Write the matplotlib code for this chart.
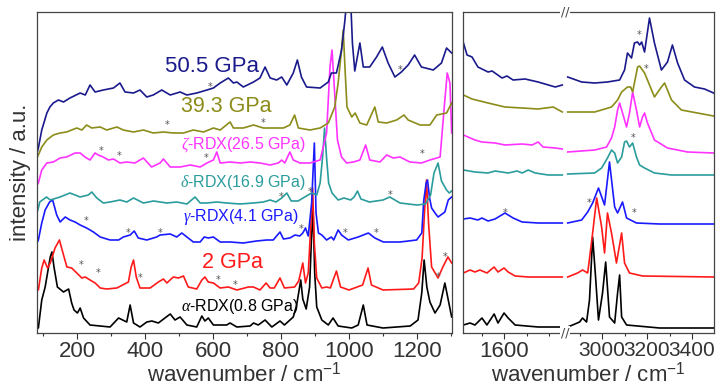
import numpy as np
import matplotlib
matplotlib.use("Agg")
import matplotlib.pyplot as plt
from matplotlib.ticker import MultipleLocator, NullLocator

plt.rcParams['font.family'] = ['Liberation Sans', 'DejaVu Sans']
plt.rcParams['mathtext.fontset'] = 'custom'
plt.rcParams['mathtext.rm'] = 'Liberation Sans'
plt.rcParams['mathtext.it'] = 'Liberation Serif:italic'

# ---- spectra: (wavenumber, intensity) ----
# low-wavenumber panel
alpha_low = [(82, 5), (86, 5), (96, 33), (106, 46), (121, 76), (126, 81), (132, 66), (142, 46), (160, 41),
             (175, 44), (184, 30), (191, 23), (201, 20), (209, 25), (219, 15), (238, 8), (297, 6), (322, 15),
             (346, 11), (356, 28), (366, 10), (385, 6), (405, 11), (420, 12), (439, 10), (474, 19), (488, 13),
             (503, 16), (523, 8), (552, 6), (567, 17), (576, 12), (586, 15), (601, 8), (640, 8), (650, 10),
             (670, 6), (709, 7), (719, 10), (733, 8), (753, 13), (773, 6), (797, 12), (810, 8), (836, 16),
             (846, 28), (858, 53), (864, 34), (874, 24), (884, 46), (889, 90), (894, 125), (899, 60),
             (905, 26), (920, 13), (939, 8), (953, 15), (968, 7), (1008, 5), (1027, 8), (1042, 28), (1053, 8),
             (1100, 5), (1180, 7), (1203, 13), (1214, 40), (1221, 73), (1229, 46), (1238, 31), (1253, 20),
             (1268, 28), (1282, 50), (1292, 33), (1302, 16)]
gpa2_low = [(82, 43), (86, 43), (96, 65), (103, 73), (113, 65), (121, 70), (135, 85), (148, 93), (160, 78),
            (170, 66), (184, 65), (199, 60), (214, 55), (224, 56), (238, 53), (253, 50), (268, 45), (287, 44),
            (317, 45), (351, 51), (359, 66), (366, 73), (374, 56), (385, 45), (415, 45), (439, 51), (454, 54),
            (464, 50), (483, 56), (498, 55), (513, 57), (527, 46), (552, 44), (567, 53), (576, 56), (586, 51),
            (601, 50), (621, 45), (645, 46), (670, 43), (704, 46), (719, 46), (738, 43), (756, 50), (768, 45),
            (780, 45), (797, 55), (810, 45), (840, 46), (852, 52), (864, 70), (872, 50), (880, 60), (888, 110),
            (893, 145), (898, 90), (905, 55), (920, 45), (934, 46), (945, 45), (963, 62), (975, 46),
            (1000, 43), (1040, 48), (1056, 65), (1066, 48), (1100, 43), (1190, 44), (1205, 50), (1215, 75),
            (1222, 120), (1228, 153), (1234, 110), (1243, 66), (1262, 55), (1276, 66), (1291, 76), (1302, 70)]
gamma_low = [(82, 90), (86, 93), (96, 110), (106, 123), (119, 131), (128, 133), (140, 118), (150, 111),
             (165, 116), (179, 113), (194, 111), (209, 108), (228, 105), (248, 101), (268, 96), (297, 93),
             (322, 93), (336, 96), (356, 98), (368, 102), (380, 95), (405, 93), (434, 96), (444, 98), (474, 99),
             (493, 96), (508, 100), (523, 96), (542, 91), (562, 91), (574, 96), (586, 95), (601, 96), (621, 91),
             (650, 91), (689, 90), (728, 92), (758, 93), (777, 93), (797, 101), (807, 94), (826, 95), (841, 98),
             (855, 97), (864, 100), (872, 105), (880, 97), (890, 130), (898, 190), (903, 120), (910, 100),
             (920, 98), (934, 93), (948, 96), (955, 93), (968, 103), (978, 98), (998, 93), (1027, 96),
             (1057, 100), (1076, 95), (1101, 91), (1150, 91), (1199, 93), (1214, 100), (1220, 133), (1227, 150),
             (1231, 153), (1237, 135), (1243, 125), (1253, 120), (1262, 116), (1282, 121), (1292, 133),
             (1302, 136)]
delta_low = [(82, 120), (86, 125), (90, 131), (110, 136), (121, 133), (150, 136), (179, 140), (209, 136),
             (233, 138), (243, 141), (258, 135), (277, 130), (297, 131), (326, 133), (346, 131), (366, 135),
             (395, 130), (425, 132), (464, 130), (493, 131), (523, 129), (547, 136), (562, 130), (581, 130),
             (611, 131), (640, 130), (679, 129), (719, 130), (748, 131), (768, 133), (785, 131), (802, 135),
             (817, 140), (830, 132), (850, 132), (870, 136), (890, 140), (905, 138), (915, 150), (922, 175),
             (928, 205), (934, 175), (940, 150), (950, 140), (968, 133), (985, 135), (1005, 133), (1015, 136),
             (1025, 142), (1035, 134), (1060, 131), (1100, 133), (1120, 136), (1150, 130), (1200, 128),
             (1225, 129), (1240, 138), (1250, 160), (1262, 170), (1272, 152), (1287, 143), (1295, 140),
             (1302, 142)]
zeta_low = [(82, 148), (86, 150), (96, 163), (111, 170), (130, 171), (150, 175), (169, 176), (194, 180),
            (209, 180), (223, 176), (238, 173), (253, 180), (262, 178), (277, 176), (292, 173), (307, 174),
            (326, 170), (346, 171), (370, 170), (395, 175), (419, 166), (444, 170), (454, 174), (474, 166),
            (503, 166), (533, 168), (562, 166), (582, 170), (601, 173), (611, 181), (621, 170), (650, 171),
            (680, 170), (709, 171), (738, 170), (768, 168), (792, 170), (802, 173), (811, 170), (826, 181),
            (836, 173), (856, 170), (885, 170), (915, 173), (934, 200), (944, 266), (950, 283), (956, 250),
            (966, 193), (978, 176), (993, 170), (1013, 171), (1032, 173), (1049, 188), (1061, 173),
            (1091, 171), (1111, 178), (1130, 175), (1150, 176), (1179, 171), (1213, 170), (1238, 173),
            (1268, 176), (1282, 233), (1289, 260), (1297, 250), (1302, 200)]
gpa39_low = [(82, 175), (86, 178), (96, 186), (111, 193), (130, 198), (150, 200), (169, 201), (199, 205),
             (214, 203), (228, 208), (243, 205), (268, 206), (287, 203), (317, 206), (336, 203), (366, 201),
             (395, 203), (424, 200), (454, 201), (483, 200), (513, 200), (542, 203), (572, 201), (601, 205),
             (621, 203), (650, 211), (660, 205), (689, 205), (719, 208), (748, 205), (777, 205), (807, 205),
             (826, 208), (840, 218), (851, 205), (885, 203), (915, 205), (939, 210), (958, 226), (968, 250),
             (978, 283), (983, 303), (988, 266), (994, 226), (1008, 216), (1018, 220), (1032, 210),
             (1052, 208), (1076, 226), (1086, 211), (1111, 210), (1140, 213), (1162, 218), (1174, 213),
             (1209, 208), (1238, 208), (1258, 218), (1287, 220), (1302, 230)]
gpa50_low = [(82, 180), (86, 185), (96, 203), (111, 220), (120, 226), (130, 230), (145, 233), (160, 231),
             (179, 235), (209, 240), (224, 238), (238, 248), (253, 241), (277, 243), (307, 245), (326, 250),
             (341, 241), (366, 240), (385, 243), (405, 236), (424, 238), (449, 243), (474, 238), (503, 241),
             (523, 238), (552, 240), (582, 243), (601, 245), (621, 250), (645, 255), (660, 250), (670, 251),
             (689, 246), (719, 251), (738, 255), (753, 266), (768, 255), (787, 253), (802, 256), (817, 248),
             (836, 260), (848, 273), (860, 256), (875, 246), (915, 245), (939, 251), (948, 260), (963, 260),
             (978, 283), (988, 313), (995, 340), (1004, 340), (1010, 290), (1017, 262), (1032, 290),
             (1042, 266), (1061, 266), (1081, 276), (1098, 286), (1115, 270), (1135, 256), (1154, 261),
             (1174, 268), (1193, 278), (1213, 266), (1248, 263), (1272, 270), (1287, 285), (1302, 280)]

# mid-wavenumber segment (right panel, left part)
alpha_mid = [(1420, 8), (1449, 10), (1471, 8), (1502, 15), (1524, 8), (1556, 19), (1573, 10), (1600, 20),
             (1618, 15), (1649, 8), (1751, 6), (1858, 6)]
gpa2_mid = [(1420, 60), (1449, 63), (1471, 61), (1493, 63), (1524, 60), (1556, 66), (1573, 61), (1600, 65),
            (1618, 61), (1649, 57), (1707, 56), (1858, 56)]
gamma_mid = [(1420, 114), (1449, 115), (1484, 113), (1502, 115), (1529, 112), (1560, 114), (1604, 120),
             (1640, 115), (1680, 111), (1751, 110), (1858, 110)]
delta_mid = [(1420, 163), (1471, 161), (1529, 160), (1560, 162), (1618, 160), (1658, 162), (1680, 160),
             (1707, 163), (1738, 160), (1796, 158), (1858, 158)]
zeta_mid = [(1420, 198), (1440, 196), (1471, 193), (1502, 191), (1560, 190), (1604, 188), (1680, 189),
            (1724, 188), (1751, 191), (1773, 186), (1827, 185), (1858, 184)]
gpa39_mid = [(1420, 238), (1458, 234), (1529, 230), (1604, 226), (1680, 225), (1751, 224), (1818, 226),
             (1858, 221)]
gpa50_mid = [(1420, 290), (1436, 278), (1458, 276), (1484, 266), (1529, 261), (1547, 262), (1591, 255),
             (1613, 257), (1640, 253), (1693, 254), (1751, 251), (1827, 246), (1858, 248)]

# C-H stretching segment (right panel, right part)
alpha_ch = [(2845, 6), (2869, 8), (2900, 11), (2913, 15), (2931, 11), (2944, 33), (2958, 96), (2971, 56),
            (2984, 13), (3002, 40), (3016, 71), (3033, 16), (3056, 10), (3069, 40), (3078, 58), (3087, 16),
            (3109, 8), (3256, 5), (3496, 5)]
gpa2_ch = [(2847, 56), (2891, 60), (2913, 63), (2936, 60), (2958, 100), (2976, 135), (2998, 106), (3011, 80),
           (3024, 120), (3042, 100), (3064, 70), (3087, 100), (3100, 70), (3122, 60), (3180, 57), (3496, 56)]
gamma_ch = [(2847, 110), (2909, 113), (2936, 121), (2958, 130), (2984, 145), (3011, 128), (3033, 171),
            (3056, 126), (3069, 120), (3091, 131), (3109, 115), (3153, 110), (3256, 109), (3496, 109)]
delta_ch = [(2847, 159), (2967, 160), (2998, 165), (3024, 175), (3042, 183), (3056, 180), (3069, 170),
            (3087, 176), (3100, 191), (3109, 192), (3122, 186), (3136, 190), (3153, 176), (3167, 168),
            (3189, 165), (3233, 160), (3309, 158), (3496, 158)]
zeta_ch = [(2847, 181), (2967, 183), (3020, 186), (3042, 195), (3056, 206), (3069, 223), (3078, 230),
           (3091, 220), (3109, 206), (3122, 220), (3136, 241), (3153, 223), (3167, 206), (3180, 216),
           (3189, 220), (3202, 210), (3233, 193), (3291, 185), (3380, 181), (3496, 180)]
gpa39_ch = [(2847, 221), (2967, 221), (3042, 226), (3069, 233), (3087, 241), (3113, 246), (3127, 246),
            (3136, 241), (3158, 266), (3167, 267), (3189, 260), (3202, 253), (3233, 236), (3264, 246),
            (3278, 250), (3309, 233), (3353, 223), (3424, 220), (3496, 217)]
gpa50_ch = [(2847, 256), (2909, 251), (2967, 250), (3024, 251), (3078, 253), (3100, 263), (3113, 280),
            (3131, 275), (3144, 290), (3158, 291), (3167, 288), (3176, 291), (3189, 281), (3211, 315),
            (3233, 290), (3264, 263), (3291, 271), (3313, 288), (3336, 270), (3367, 253), (3411, 246),
            (3456, 244), (3496, 240)]

colors = ['#000000', '#ff1a1a', '#1a1aff', '#2b9c9c', '#ff33ff', '#8c8c1a', '#1a1a8c']
low_sets = [alpha_low, gpa2_low, gamma_low, delta_low, zeta_low, gpa39_low, gpa50_low]
mid_sets = [alpha_mid, gpa2_mid, gamma_mid, delta_mid, zeta_mid, gpa39_mid, gpa50_mid]
ch_sets = [alpha_ch, gpa2_ch, gamma_ch, delta_ch, zeta_ch, gpa39_ch, gpa50_ch]

# labels: text, wavenumber, intensity, colour index, size
labels = [(r'$\alpha$-RDX(0.8 GPa)', 679, 26, 0, 11.5),
          ('2 GPa', 656, 71, 1, 15.5),
          (r'$\gamma$-RDX(4.1 GPa)', 683, 116, 2, 11.5),
          (r'$\delta$-RDX(16.9 GPa)', 688, 150, 3, 11.5),
          (r'$\zeta$-RDX(26.5 GPa)', 688, 188, 4, 11.5),
          ('39.3 GPa', 640, 226, 5, 15.5),
          ('50.5 GPa', 597, 267, 6, 16)]

# asterisks (wavenumber, intensity)
stars_low = [(591, 246), (1150, 263), (465, 208), (748, 210), (271, 182), (324, 177), (579, 175), (1214, 179),
             (799, 136), (887, 141), (1121, 138), (226, 112), (350, 100), (444, 100), (858, 104), (988, 100),
             (1081, 100), (212, 68), (262, 60), (385, 55), (614, 53), (665, 48), (1262, 56), (1282, 76)]
stars_mid = [(1604, 120)]
stars_ch = [(3167, 298), (3198, 264), (3136, 195), (2944, 130), (3144, 120)]

W, H = 728, 390
fig = plt.figure(figsize=(W / 100, H / 100), dpi=100)
bot, top = 1 - 333 / H, 1 - 12 / H
ax = fig.add_axes([37 / W, bot, 415 / W, top - bot])
ax_m = fig.add_axes([463 / W, bot, 102 / W, top - bot])
ax_c = fig.add_axes([565 / W, bot, 149 / W, top - bot])

for data_sets, a in [(low_sets, ax), (mid_sets, ax_m), (ch_sets, ax_c)]:
    for d, c in zip(data_sets, colors):
        arr = np.array(d, dtype=float)
        a.plot(arr[:, 0], arr[:, 1], color=c, lw=1.2)

for stars, a in [(stars_low, ax), (stars_mid, ax_m), (stars_ch, ax_c)]:
    for x, y in stars:
        a.text(x, y, '*', color='#555555', fontsize=7, ha='center', va='center', family='DejaVu Sans')

for txt, x, y, ci, fs in labels:
    ax.text(x, y, txt, color=colors[ci], fontsize=fs, ha='center', va='center')

ax.set_xlim(82, 1303)
ax_m.set_xlim(1418, 1870)
ax_c.set_xlim(2835, 3498)
for a in (ax, ax_m, ax_c):
    a.set_ylim(0, 321)
    a.yaxis.set_major_locator(NullLocator())
    a.tick_params(axis='x', which='both', direction='out', colors='#333333', labelsize=16, pad=2)
    a.tick_params(axis='x', which='major', length=4, width=0.8)
    a.tick_params(axis='x', which='minor', length=2.5, width=0.8)
    for s in a.spines.values():
        s.set_color('#444444')
        s.set_linewidth(0.9)
    a.xaxis.set_minor_locator(MultipleLocator(100))
ax_c.tick_params(axis='x', labelsize=15)

ax.xaxis.set_major_locator(MultipleLocator(200))
ax_m.set_xticks([1600])
ax_c.set_xticks([3000, 3200, 3400])

ax_m.spines['right'].set_visible(False)
ax_c.spines['left'].set_visible(False)

ax.set_xlabel('wavenumber / cm$^{-1}$', fontsize=16, color='#333333', labelpad=0)
ax.set_ylabel('intensity / a.u.', fontsize=16, color='#333333', labelpad=4)
fig.text(588 / W, 1 - 374 / H, 'wavenumber / cm$^{-1}$', fontsize=16, color='#333333',
         ha='center', va='center')

# axis breaks
for yy in (0, 1):
    ax_c.text(0, yy, '//', transform=ax_c.transAxes, ha='center', va='center', fontsize=9,
              color='#444444', family='DejaVu Sans',
              bbox=dict(boxstyle='square,pad=0.05', fc='white', ec='none'))
ax.plot([215, 227], [1, 1], color='white', lw=2, transform=ax.get_xaxis_transform(), clip_on=False)

fig.savefig('out.png', dpi=100)
